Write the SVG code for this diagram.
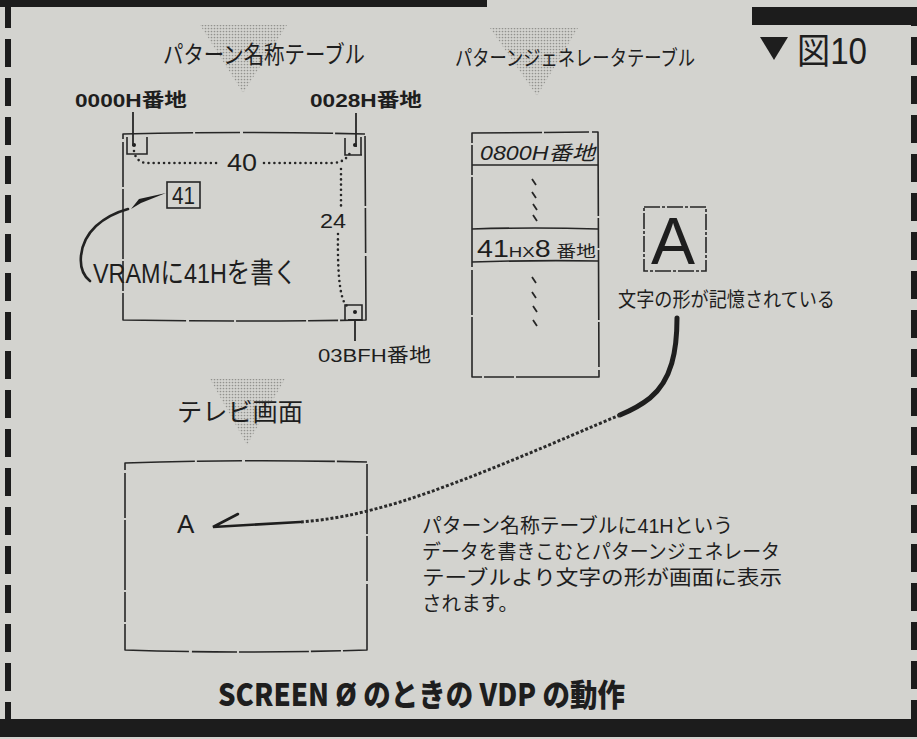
<svg xmlns="http://www.w3.org/2000/svg" width="917" height="739" viewBox="0 0 917 739">
<style>
.ink{fill:#1e1e1e}
.jp{font-family:"Noto Sans CJK JP","Liberation Sans",sans-serif;fill:#1e1e1e}
.lat{font-family:"Liberation Sans","Noto Sans CJK JP",sans-serif;fill:#1e1e1e}
.hand{fill:none;stroke:#262626;stroke-width:1.6;stroke-linejoin:round;stroke-dasharray:70 2 45 3 90 2 30 2}
.thin{fill:none;stroke:#262626;stroke-width:1.6}
.dots{fill:none;stroke:#262626;stroke-width:2.6;stroke-linecap:round;stroke-dasharray:0 5.2}
.tick{fill:none;stroke:#262626;stroke-width:1.8}
.stip{fill:url(#stipple)}
.bar{fill:#1c1c1c}
.border{fill:none;stroke:#1c1c1c;stroke-width:6;stroke-dasharray:28 11}
</style>
<defs>
<pattern id="stipple" width="3" height="3" patternUnits="userSpaceOnUse">
<circle cx="1.5" cy="1.5" r="0.85" fill="#92928e"/>
</pattern>
</defs>
<rect x="0" y="0" width="917" height="739" fill="#d3d3cf"/>
<g id="frame">
<rect class="bar" x="0" y="0" width="487" height="7"/>
<rect class="bar" x="752" y="7" width="165" height="18"/>
<rect class="bar" x="0" y="719" width="917" height="18"/>
<line class="border" x1="8" y1="0" x2="8" y2="719"/>
<line class="border" x1="914" y1="25" x2="914" y2="719" stroke-dashoffset="-12"/>
</g>
<g id="figure-label">
<polygon class="ink" points="760,37 788,37 774,60"/>
<text class="lat" x="797" y="64" font-size="36" textLength="70" lengthAdjust="spacingAndGlyphs">図10</text>
</g>
<g id="title-name-table">
<polygon class="stip" points="200,25 287,25 243,93"/>
<text class="jp" x="163" y="63" font-size="24" textLength="202" lengthAdjust="spacingAndGlyphs">パターン名称テーブル</text>
</g>
<g id="title-gen-table">
<polygon class="stip" points="490,28 578,28 537,96"/>
<text class="jp" x="455" y="65" font-size="21" textLength="240" lengthAdjust="spacingAndGlyphs">パターンジェネレータテーブル</text>
</g>
<g id="title-tv">
<polygon class="stip" points="210,379 285,379 247,445"/>
<text class="jp" x="177" y="421" font-size="25" textLength="126" lengthAdjust="spacingAndGlyphs">テレビ画面</text>
</g>
<g id="label-0000">
<text class="lat" x="75" y="107" font-size="19" font-weight="bold" textLength="112" lengthAdjust="spacingAndGlyphs">0000H番地</text>
</g>
<g id="label-0028">
<text class="lat" x="310" y="107" font-size="19" font-weight="bold" textLength="112" lengthAdjust="spacingAndGlyphs">0028H番地</text>
</g>
<g id="name-table">
<path class="hand" d="M123,134 Q245,131 365,134 L366,320 Q245,322 123,320 Z"/>
<path class="thin" d="M127,137 V154 H147 V137"/>
<circle class="ink" cx="134" cy="145" r="2"/>
<path class="thin" d="M345,138 V155 H362 M361,137 V155"/>
<circle class="ink" cx="355" cy="145" r="2"/>
<path class="thin" d="M345,321 V305 H362 V321"/>
<circle class="ink" cx="355" cy="312" r="2"/>
<text class="lat" x="227" y="171" font-size="24" textLength="30" lengthAdjust="spacingAndGlyphs">40</text>
<text class="lat" x="320" y="228" font-size="21" textLength="26" lengthAdjust="spacingAndGlyphs">24</text>
</g>
<g id="box-41">
<rect class="thin" x="167" y="182" width="33" height="26"/>
<text class="lat" x="172" y="204" font-size="23" textLength="23" lengthAdjust="spacingAndGlyphs">41</text>
</g>
<g id="vram-label">
<text class="lat" x="93" y="283" font-size="28" textLength="204" lengthAdjust="spacingAndGlyphs">VRAMに41Hを書く</text>
</g>
<g id="label-03bf">
<text class="lat" x="318" y="362" font-size="19" textLength="113" lengthAdjust="spacingAndGlyphs">03BFH番地</text>
</g>
<g id="gen-table">
<path class="hand" d="M472,133 L598,132 L599,377 L472,377 Z"/>
<path class="thin" d="M472,165 H598 M472,229 Q535,227 598,229 M472,262 Q535,260 598,261"/>
<text class="lat" x="480" y="160" font-size="20" font-style="italic" textLength="115" lengthAdjust="spacingAndGlyphs">0800H番地</text>
<text class="lat" x="477" y="257" font-size="20" textLength="119" lengthAdjust="spacingAndGlyphs"><tspan font-size="23">41</tspan><tspan font-size="15">HX</tspan><tspan font-size="23">8</tspan><tspan font-size="16"> 番地</tspan></text>
<path class="tick" d="M532,179 l4,6 M532,192 l4,6 M533,204 l4,6 M533,215 l4,6 M532,277 l4,6 M532,292 l4,6 M533,306 l4,6 M533,320 l4,6"/>
</g>
<g id="glyph-A">
<rect class="thin" x="644" y="207" width="62" height="64" stroke-dasharray="16 2 3 2" stroke-width="1.3"/>
<text class="lat" x="651" y="264" font-size="66">A</text>
</g>
<g id="glyph-caption">
<text class="jp" x="618" y="307" font-size="20" textLength="217" lengthAdjust="spacingAndGlyphs">文字の形が記憶されている</text>
</g>
<g id="tv-screen">
<path class="hand" d="M125,463 Q245,459 367,462 L367,650 Q245,654 125,650 Z"/>
<text class="lat" x="177" y="533" font-size="26">A</text>
</g>
<g id="explanation">
<text class="lat" x="422" y="533" font-size="20" textLength="311" lengthAdjust="spacingAndGlyphs">パターン名称テーブルに41Hという</text>
<text class="lat" x="422" y="559" font-size="20" textLength="358" lengthAdjust="spacingAndGlyphs">データを書きこむとパターンジェネレータ</text>
<text class="lat" x="422" y="585" font-size="20" textLength="360" lengthAdjust="spacingAndGlyphs">テーブルより文字の形が画面に表示</text>
<text class="lat" x="422" y="611" font-size="20" textLength="96" lengthAdjust="spacingAndGlyphs">されます。</text>
</g>
<g id="caption-bottom">
<text class="jp" x="218" y="706" font-size="31" font-weight="900" textLength="407" lengthAdjust="spacingAndGlyphs">SCREEN Ø のときの VDP の動作</text>
</g>
<g id="connectors">
<path class="tick" d="M133,112 V146"/>
<path class="tick" d="M356,113 V147"/>
<path class="tick" d="M355,321 V341 M348,320 H362"/>
<path class="dots" d="M134,151 Q136,163 148,163 H219"/>
<path class="dots" d="M264,163 H334 Q345,162 350,153"/>
<path class="dots" d="M341,169 V208"/>
<path class="dots" d="M338,234 Q337,298 347,306"/>
<path fill="none" stroke="#222" stroke-width="2.6" stroke-linecap="round" d="M90,281 C76,270 78,243 96,226 C106,217 117,212 128,209"/>
<polygon class="ink" points="131,209 139,199 166,193 141,203"/>
<path fill="none" stroke="#1e1e1e" stroke-width="5" stroke-linecap="round" d="M677,318 C677,350 672,380 650,398 C640,406 632,410 620,415"/>
<path fill="none" stroke="#2a2a2a" stroke-width="3" stroke-dasharray="3 2" d="M620,415 C560,440 470,480 400,502 C360,514 330,520 300,522"/>
<path fill="none" stroke="#1e1e1e" stroke-width="2.6" stroke-linecap="round" d="M300,522 L213,527 L238,514"/>
</g>
</svg>
